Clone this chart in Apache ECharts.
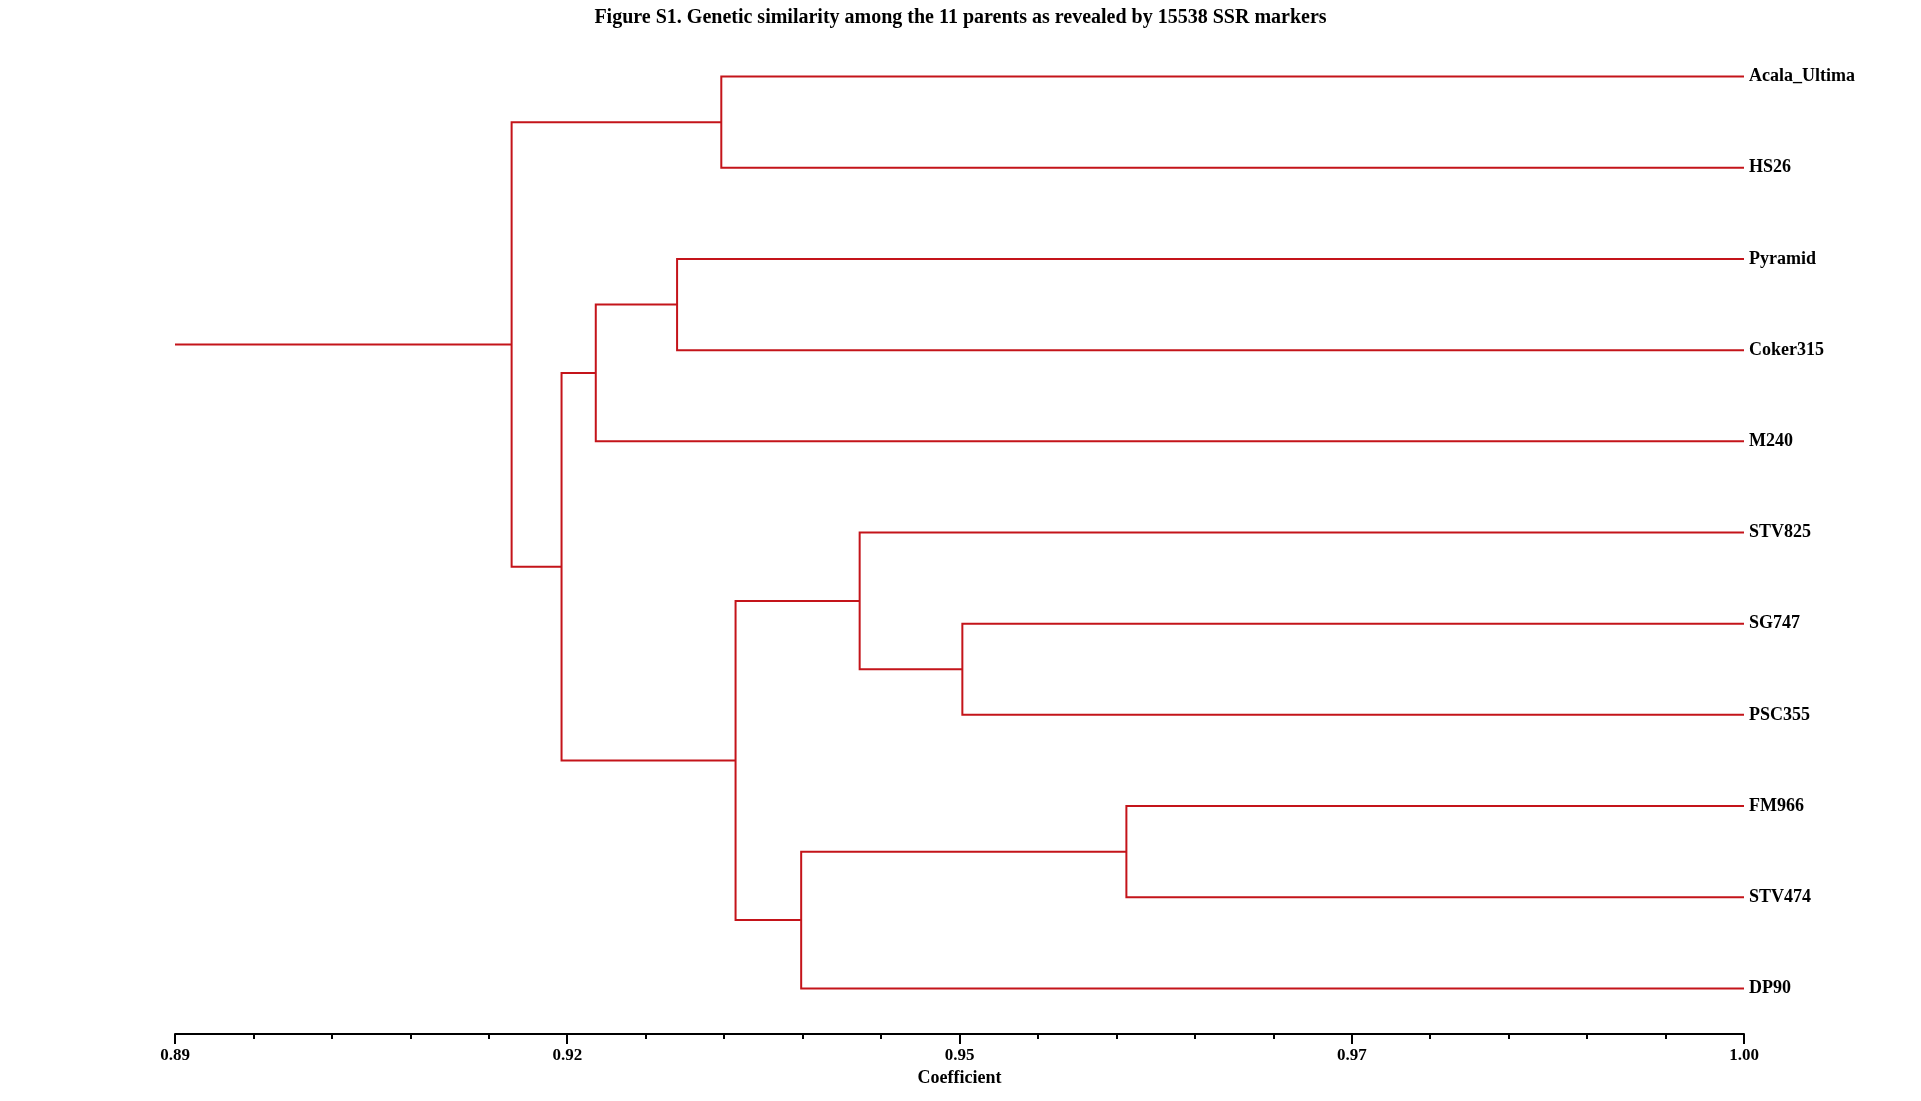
<!DOCTYPE html>
<html>
<head>
<meta charset="utf-8">
<script src="https://cdn.jsdelivr.net/npm/echarts@6/dist/echarts.min.js"></script>
<style>
html, body { margin: 0; padding: 0; background: #fff; }
#chart { width: 1921px; height: 1101px; }
</style>
</head>
<body>
<div id="chart"></div>
<script>
// leaves, top to bottom
var leaves = ['Acala_Ultima', 'HS26', 'Pyramid', 'Coker315', 'M240', 'STV825', 'SG747', 'PSC355', 'FM966', 'STV474', 'DP90'];

// merges: node ids 0..10 are leaves, merge k makes node 11+k
var mergeLeft   = [0, 2, 12, 6, 5, 8, 16, 15, 13, 11];
var mergeRight  = [1, 3, 4, 7, 14, 9, 10, 17, 18, 19];
var mergeHeight = [0.9283, 0.9252, 0.9195, 0.9452, 0.9380, 0.9567, 0.9339, 0.9293, 0.9171, 0.9136];

// coefficient axis
var axisMin = 0.89;
var axisMax = 1.00;
var tickStep = 0.0275;
var tickLabels = ['0.89', '0.92', '0.95', '0.97', '1.00'];

var lineColor = '#c4141a';
var font = 'Liberation Serif';

// node positions: x = similarity, y = leaf slot (midpoint of children)
var nodeX = [], nodeY = [];
leaves.forEach(function (name, i) {
	nodeX[i] = axisMax;
	nodeY[i] = i;
});
var links = [];
for (var k = 0; k < mergeHeight.length; k++) {
	var a = mergeLeft[k], b = mergeRight[k], id = leaves.length + k;
	nodeX[id] = mergeHeight[k];
	nodeY[id] = (nodeY[a] + nodeY[b]) / 2;
	links.push([nodeX[a], nodeY[a], nodeX[b], nodeY[b], mergeHeight[k]]);
}
var rootId = nodeX.length - 1;

var chart = echarts.init(document.getElementById('chart'));
chart.setOption({
	backgroundColor: '#fff',
	animation: false,
	title: {
		text: 'Figure S1. Genetic similarity among the 11 parents as revealed by 15538 SSR markers',
		left: 'center',
		top: 3,
		textStyle: { fontFamily: font, fontWeight: 'bold', fontSize: 20, color: '#000' }
	},
	grid: { left: 175, right: 177, top: 31, bottom: 67 },
	xAxis: {
		type: 'value',
		position: 'bottom',
		min: axisMin,
		max: axisMax,
		interval: tickStep,
		name: 'Coefficient',
		nameLocation: 'middle',
		nameGap: 29,
		nameTextStyle: { fontFamily: font, fontWeight: 'bold', fontSize: 18, color: '#000' },
		axisLine: { show: true, onZero: false, lineStyle: { color: '#000', width: 2 } },
		axisTick: { show: true, length: 10, lineStyle: { color: '#000', width: 2 } },
		minorTick: { show: true, splitNumber: 5, length: 5, lineStyle: { color: '#000', width: 2 } },
		splitLine: { show: false },
		axisLabel: {
			margin: 13,
			fontFamily: font,
			fontWeight: 'bold',
			fontSize: 17,
			color: '#000',
			formatter: function (v) {
				var i = Math.round((v - axisMin) / tickStep);
				return tickLabels[i] || '';
			}
		}
	},
	yAxis: [{
		type: 'value',
		min: -0.5,
		max: leaves.length - 0.5,
		inverse: true,
		show: false
	}, {
		type: 'category',
		data: leaves,
		inverse: true,
		position: 'right',
		axisLine: { show: false },
		axisTick: { show: false },
		splitLine: { show: false },
		axisLabel: {
			interval: 0,
			margin: 5,
			fontFamily: font,
			fontWeight: 'bold',
			fontSize: 18,
			color: '#000'
		}
	}],
	series: [{
		type: 'custom',
		yAxisIndex: 0,
		encode: { x: [0, 2, 4], y: [1, 3] },
		data: links,
		renderItem: function (params, api) {
			var pa = api.coord([api.value(0), api.value(1)]);
			var ha = api.coord([api.value(4), api.value(1)]);
			var hb = api.coord([api.value(4), api.value(3)]);
			var pb = api.coord([api.value(2), api.value(3)]);
			return {
				type: 'polyline',
				shape: { points: [pa, ha, hb, pb] },
				style: { stroke: lineColor, lineWidth: 2, fill: null }
			};
		}
	}, {
		// root stub back to the axis start
		type: 'line',
		yAxisIndex: 0,
		symbol: 'none',
		lineStyle: { color: lineColor, width: 2 },
		data: [[axisMin, nodeY[rootId]], [nodeX[rootId], nodeY[rootId]]]
	}]
});
</script>
</body>
</html>
